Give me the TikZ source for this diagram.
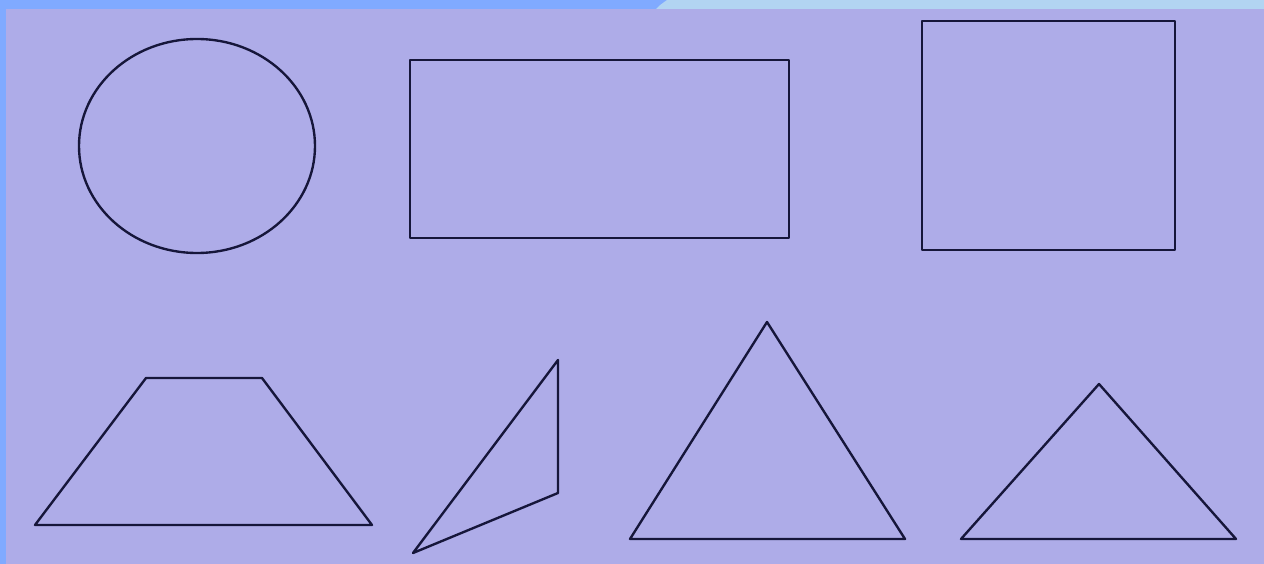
\documentclass[tikz,border=0pt]{standalone}
\definecolor{slidebg}{HTML}{AEACE8}
\definecolor{bandleft}{HTML}{80AAFF}
\definecolor{bandright}{HTML}{B2D4F2}
\definecolor{inkline}{HTML}{16163A}
\tikzset{figline/.style={draw=inkline, line width=1.35pt, line join=round}}
\begin{document}
\begin{tikzpicture}[x=0.02cm, y=-0.02cm]
		\useasboundingbox (0,0) rectangle (1264,564);
		\fill[slidebg] (0,0) rectangle (1264,564);
		\fill[bandleft] (0,0) rectangle (6,564);
		\fill[bandleft] (0,0) rectangle (667,9);
		\fill[bandright] (667,0) -- (1264,0) -- (1264,9) -- (656,9) .. controls (660,5) .. (667,0);
		% top row
		\draw[figline] (197,146) ellipse (118 and 107);
		\draw[figline] (410,60) rectangle (789,238);
		\draw[figline] (922,21) rectangle (1175,250);
		% bottom row
		\draw[figline] (35,525) -- (146,378) -- (262,378) -- (372,525) -- cycle;
		\draw[figline] (413,553) -- (558,360) -- (558,493) -- cycle;
		\draw[figline] (630,539) -- (767,322) -- (905,539) -- cycle;
		\draw[figline] (961,539) -- (1099,384) -- (1236,539) -- cycle;
	\end{tikzpicture}
\end{document}
